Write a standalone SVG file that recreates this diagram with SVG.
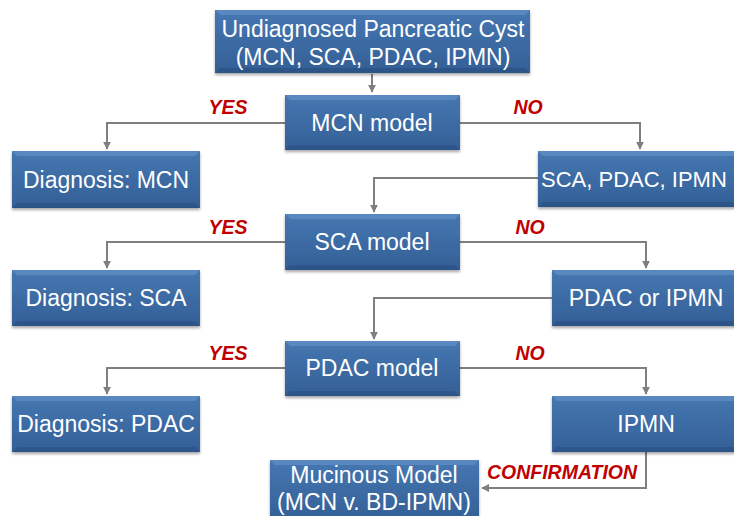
<svg xmlns="http://www.w3.org/2000/svg" width="734" height="516" viewBox="0 0 734 516">
<style>
.t{font-family:"Liberation Sans",Arial,sans-serif;font-size:23px;fill:#ffffff;text-anchor:middle}
.l{font-family:"Liberation Sans",Arial,sans-serif;font-size:19.5px;font-weight:bold;font-style:italic;fill:#c00000;text-anchor:middle}
.c{fill:none;stroke:#7f7f7f;stroke-width:2}
.b{fill:url(#g);filter:url(#sh)}
.hl{fill:#6a98cc;opacity:0.55}
.dk{fill:#234a78;opacity:0.45}
</style>
<defs>
<linearGradient id="g" x1="0" y1="0" x2="0" y2="1">
<stop offset="0" stop-color="#4677b2"/>
<stop offset="1" stop-color="#335f95"/>
</linearGradient>
<filter id="sh" x="-10%" y="-10%" width="120%" height="130%">
<feDropShadow dx="0" dy="2" stdDeviation="1.5" flood-color="#000" flood-opacity="0.35"/>
</filter>
<marker id="a" viewBox="0 0 10 10" refX="9" refY="5" markerWidth="4" markerHeight="4" orient="auto">
<path d="M0,0 L10,5 L0,10 z" fill="#7f7f7f"/>
</marker>
</defs>
<rect width="734" height="516" fill="#ffffff"/>
<g id="connectors">
<path class="c" d="M372,74 V92" marker-end="url(#a)"/>
<path class="c" d="M285,123 H107 V149" marker-end="url(#a)"/>
<path class="c" d="M460,123 H640 V149" marker-end="url(#a)"/>
<path class="c" d="M538,178 H374 V212" marker-end="url(#a)"/>
<path class="c" d="M285,242 H107 V268" marker-end="url(#a)"/>
<path class="c" d="M460,242 H646 V268" marker-end="url(#a)"/>
<path class="c" d="M552,298 H374 V339" marker-end="url(#a)"/>
<path class="c" d="M285,368 H107 V394" marker-end="url(#a)"/>
<path class="c" d="M460,368 H646 V394" marker-end="url(#a)"/>
<path class="c" d="M646,452 V488 H482" marker-end="url(#a)"/>
</g>
<g id="labels">
<text class="l" x="228" y="114">YES</text>
<text class="l" x="528" y="114">NO</text>
<text class="l" x="228" y="234">YES</text>
<text class="l" x="530" y="234">NO</text>
<text class="l" x="228" y="360">YES</text>
<text class="l" x="530" y="360">NO</text>
<text class="l" x="562" y="479">CONFIRMATION</text>
</g>
<g id="n_start">
<rect class="b" x="215" y="10" width="315" height="63"/>
<polygon class="hl" points="215,10 530,10 525,15 220,15"/>
<polygon class="dk" points="215,73 530,73 525,68 220,68"/>
<text class="t" x="373" y="37">Undiagnosed Pancreatic Cyst</text>
<text class="t" x="373" y="65">(MCN, SCA, PDAC, IPMN)</text>
</g>
<g id="n_mcnmodel">
<rect class="b" x="285" y="95" width="175" height="55"/>
<polygon class="hl" points="285,95 460,95 455,100 290,100"/>
<polygon class="dk" points="285,150 460,150 455,145 290,145"/>
<text class="t" x="372" y="131">MCN model</text>
</g>
<g id="n_dmcn">
<rect class="b" x="12" y="151" width="188" height="57"/>
<polygon class="hl" points="12,151 200,151 195,156 17,156"/>
<polygon class="dk" points="12,208 200,208 195,203 17,203"/>
<text class="t" x="106" y="188">Diagnosis: MCN</text>
</g>
<g id="n_spi">
<rect class="b" x="538" y="151" width="210" height="56"/>
<polygon class="hl" points="538,151 748,151 743,156 543,156"/>
<polygon class="dk" points="538,207 748,207 743,202 543,202"/>
<text class="t" x="541" y="187" style="text-anchor:start;font-size:22px">SCA, PDAC, IPMN</text>
</g>
<g id="n_scamodel">
<rect class="b" x="285" y="214" width="175" height="56"/>
<polygon class="hl" points="285,214 460,214 455,219 290,219"/>
<polygon class="dk" points="285,270 460,270 455,265 290,265"/>
<text class="t" x="372" y="250">SCA model</text>
</g>
<g id="n_dsca">
<rect class="b" x="12" y="270" width="188" height="56"/>
<polygon class="hl" points="12,270 200,270 195,275 17,275"/>
<polygon class="dk" points="12,326 200,326 195,321 17,321"/>
<text class="t" x="106" y="306">Diagnosis: SCA</text>
</g>
<g id="n_pi">
<rect class="b" x="552" y="270" width="190" height="56"/>
<polygon class="hl" points="552,270 742,270 737,275 557,275"/>
<polygon class="dk" points="552,326 742,326 737,321 557,321"/>
<text class="t" x="646" y="306">PDAC or IPMN</text>
</g>
<g id="n_pdacmodel">
<rect class="b" x="285" y="341" width="175" height="55"/>
<polygon class="hl" points="285,341 460,341 455,346 290,346"/>
<polygon class="dk" points="285,396 460,396 455,391 290,391"/>
<text class="t" x="372" y="376">PDAC model</text>
</g>
<g id="n_dpdac">
<rect class="b" x="12" y="396" width="188" height="56"/>
<polygon class="hl" points="12,396 200,396 195,401 17,401"/>
<polygon class="dk" points="12,452 200,452 195,447 17,447"/>
<text class="t" x="106" y="432">Diagnosis: PDAC</text>
</g>
<g id="n_ipmn">
<rect class="b" x="552" y="396" width="190" height="56"/>
<polygon class="hl" points="552,396 742,396 737,401 557,401"/>
<polygon class="dk" points="552,452 742,452 737,447 557,447"/>
<text class="t" x="646" y="432">IPMN</text>
</g>
<g id="n_mucinous">
<rect class="b" x="270" y="460" width="209" height="62"/>
<polygon class="hl" points="270,460 479,460 474,465 275,465"/>
<text class="t" x="374" y="483">Mucinous Model</text>
<text class="t" x="374" y="510">(MCN v. BD-IPMN)</text>
</g>
</svg>
